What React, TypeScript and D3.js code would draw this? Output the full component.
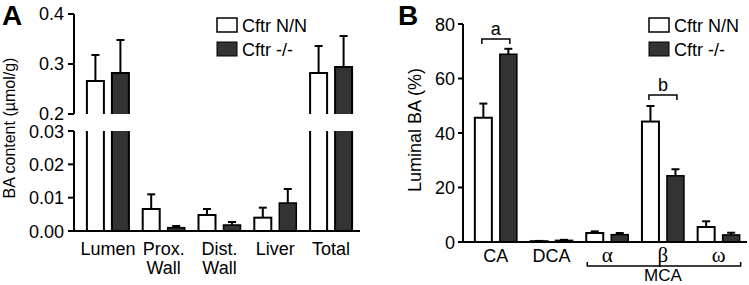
import React from "react";
import * as d3 from "d3";

const seriesNames = ["Cftr N/N", "Cftr -/-"];

const catsA = ["Lumen", "Prox.|Wall", "Dist.|Wall", "Liver", "Total"];
const nnA = [0.266, 0.0066, 0.0048, 0.004, 0.282];
const nnAerr = [0.052, 0.0044, 0.0018, 0.003, 0.054];
const koA = [0.282, 0.001, 0.0018, 0.0084, 0.294];
const koAerr = [0.066, 0.0005, 0.0009, 0.0042, 0.062];
const upperTicksA = [0.2, 0.3, 0.4];
const lowerTicksA = [0, 0.01, 0.02, 0.03];

const catsB = ["CA", "DCA", "α", "β", "ω"];
const nnB = [45.6, 0.3, 3.3, 44.2, 5.5];
const nnBerr = [5.2, 0.1, 0.6, 5.7, 2.1];
const koB = [68.9, 0.6, 2.7, 24.3, 2.6];
const koBerr = [2.0, 0.2, 0.6, 2.4, 0.8];
const ticksB = [0, 20, 40, 60, 80];

const SANS = "'Liberation Sans', Arial, sans-serif";
const SERIF = "'Liberation Serif', 'Times New Roman', serif";
const DARK = "#333333";
const FS = 18;

const fills = ["#ffffff", DARK];

function ErrBar({ x, y0, y1 }: { x: number; y0: number; y1: number }) {
  return (
    <g stroke="#000" strokeWidth={2}>
      <line x1={x} x2={x} y1={y0} y2={y1} />
      <line x1={x - 4} x2={x + 4} y1={y1} y2={y1} />
    </g>
  );
}

function Legend({ x }: { x: number }) {
  return (
    <g fontFamily={SANS}>
      {seriesNames.map((s, j) => (
        <g key={s}>
          <rect x={x + 1} y={18 + j * 24} width={20} height={14} fill={fills[j]} stroke="#000" strokeWidth={j === 0 ? 1.5 : 1} />
          <text x={x + 26} y={32 + j * 24} fontSize={FS}>{s}</text>
        </g>
      ))}
    </g>
  );
}

function PanelA() {
  const axisX = 74;
  const x0 = d3.scaleBand<string>().domain(catsA).range([80, 359]);
  const x1 = d3.scaleBand<string>().domain(seriesNames).range([0, 42]).paddingInner(0.32);
  const yU = d3.scaleLinear().domain([0.2, 0.4]).range([114, 14]);
  const yL = d3.scaleLinear().domain([0, 0.03]).range([231, 131]);
  const vals = [nnA, koA];
  const errs = [nnAerr, koAerr];
  const bw = x1.bandwidth();

  const bars: React.ReactNode[] = [];
  catsA.forEach((c, i) => {
    const cx = (x0(c) as number) + x0.bandwidth() / 2 - 21;
    seriesNames.forEach((s, j) => {
      const v = vals[j][i];
      const e = errs[j][i];
      const bx = cx + (x1(s) as number);
      const fill = fills[j];
      if (v > 0.2) {
        const top = yU(v);
        const bBreak = yU(0.2);
        const lTop = yL(0.03);
        const lBot = yL(0);
        bars.push(
          <g key={`${i}-${j}`}>
            <rect x={bx} y={top} width={bw} height={bBreak - top} fill={fill} />
            <path d={`M${bx},${bBreak}V${top}H${bx + bw}V${bBreak}`} fill="none" stroke="#000" strokeWidth={2} />
            <rect x={bx} y={lTop} width={bw} height={lBot - lTop} fill={fill} />
            <path d={`M${bx},${lTop}V${lBot}M${bx + bw},${lTop}V${lBot}`} fill="none" stroke="#000" strokeWidth={2} />
            <ErrBar x={bx + bw / 2} y0={top} y1={yU(v + e)} />
          </g>
        );
      } else {
        const top = yL(v);
        bars.push(
          <g key={`${i}-${j}`}>
            <ErrBar x={bx + bw / 2} y0={top} y1={yL(v + e)} />
            <rect x={bx} y={top} width={bw} height={yL(0) - top} fill={fill} stroke="#000" strokeWidth={j === 0 ? 2 : 1.5} />
          </g>
        );
      }
    });
  });

  return (
    <g fontFamily={SANS}>
      <text x={2} y={25} fontSize={28} fontWeight="bold">A</text>
      <text transform={`translate(15,128) rotate(-90)`} textAnchor="middle" fontSize={16}>BA content (µmol/g)</text>
      {bars}
      <g stroke="#000" strokeWidth={2}>
        <line x1={axisX} x2={axisX} y1={yU(0.4)} y2={yU(0.2)} />
        <line x1={axisX} x2={axisX} y1={yL(0.03)} y2={yL(0)} />
        <line x1={axisX} x2={360} y1={yL(0)} y2={yL(0)} />
        {upperTicksA.map((t) => (
          <line key={`u${t}`} x1={axisX - 6} x2={axisX} y1={yU(t)} y2={yU(t)} />
        ))}
        {lowerTicksA.map((t) => (
          <line key={`l${t}`} x1={axisX - 6} x2={axisX} y1={yL(t)} y2={yL(t)} />
        ))}
      </g>
      {upperTicksA.map((t) => (
        <text key={`ut${t}`} x={64} y={yU(t) + 6} textAnchor="end" fontSize={FS}>{d3.format(".1f")(t)}</text>
      ))}
      {lowerTicksA.map((t) => (
        <text key={`lt${t}`} x={64} y={yL(t) + 6.5} textAnchor="end" fontSize={FS}>{d3.format(".2f")(t)}</text>
      ))}
      {catsA.map((c) => {
        const cx = (x0(c) as number) + x0.bandwidth() / 2;
        const lines = c.split("|");
        return (
          <text key={c} textAnchor="middle" fontSize={FS}>
            {lines.map((l, k) => (
              <tspan key={k} x={cx} y={255 + k * 19}>{l}</tspan>
            ))}
          </text>
        );
      })}
      <Legend x={216} />
    </g>
  );
}

function PanelB() {
  const axisX = 463;
  const x0 = d3.scaleBand<string>().domain(catsB).range([468, 746.5]);
  const x1 = d3.scaleBand<string>().domain(seriesNames).range([0, 42]).paddingInner(0.32);
  const y = d3.scaleLinear().domain([0, 80]).range([242, 24]);
  const vals = [nnB, koB];
  const errs = [nnBerr, koBerr];
  const bw = x1.bandwidth();
  const center = (c: string) => (x0(c) as number) + x0.bandwidth() / 2;

  const brackets = [
    { c: "CA", label: "a", yLine: 39 },
    { c: "β", label: "b", yLine: 95 },
  ];

  return (
    <g fontFamily={SANS}>
      <text x={398} y={25} fontSize={28} fontWeight="bold">B</text>
      <text transform={`translate(421,130) rotate(-90)`} textAnchor="middle" fontSize={FS}>Luminal BA (%)</text>
      {catsB.map((c, i) =>
        seriesNames.map((s, j) => {
          const v = vals[j][i];
          const e = errs[j][i];
          const bx = center(c) - 21 + (x1(s) as number);
          return (
            <g key={`${i}-${j}`}>
              <ErrBar x={bx + bw / 2} y0={y(v)} y1={y(v + e)} />
              <rect x={bx} y={y(v)} width={bw} height={y(0) - y(v)} fill={fills[j]} stroke="#000" strokeWidth={j === 0 ? 2 : 1.5} />
            </g>
          );
        })
      )}
      <g stroke="#000" strokeWidth={2}>
        <line x1={axisX} x2={axisX} y1={y(80)} y2={y(0)} />
        <line x1={axisX} x2={747} y1={y(0)} y2={y(0)} />
        {ticksB.map((t) => (
          <line key={t} x1={axisX - 5} x2={axisX} y1={y(t)} y2={y(t)} />
        ))}
      </g>
      {ticksB.map((t) => (
        <text key={`t${t}`} x={455} y={y(t) + 6.5} textAnchor="end" fontSize={FS}>{t}</text>
      ))}
      {catsB.map((c, i) => (
        <text
          key={c}
          x={center(c)}
          y={262}
          textAnchor="middle"
          fontSize={i >= 2 ? 21 : FS}
          fontFamily={i >= 2 ? SERIF : SANS}
        >
          {c}
        </text>
      ))}
      {brackets.map((b) => {
        const cx = center(b.c);
        const xa = cx - 14;
        const xb = cx + 14;
        return (
          <g key={b.label}>
            <path d={`M${xa},${b.yLine + 5}V${b.yLine}H${xb}V${b.yLine + 5}`} fill="none" stroke="#000" strokeWidth={1.5} />
            <text x={cx} y={b.yLine - 4} textAnchor="middle" fontSize={FS}>{b.label}</text>
          </g>
        );
      })}
      <path
        d={`M${center("α") - 20},262V266H${center("ω") + 22}V262`}
        fill="none"
        stroke="#000"
        strokeWidth={1.5}
      />
      <text x={center("β")} y={281} textAnchor="middle" fontSize={17}>MCA</text>
      <Legend x={648} />
    </g>
  );
}

export default function App() {
  return (
    <svg width={749} height={285} style={{ position: "absolute", left: 0, top: 0, background: "#fff" }}>
      <rect width={749} height={285} fill="#fff" />
      <PanelA />
      <PanelB />
    </svg>
  );
}
